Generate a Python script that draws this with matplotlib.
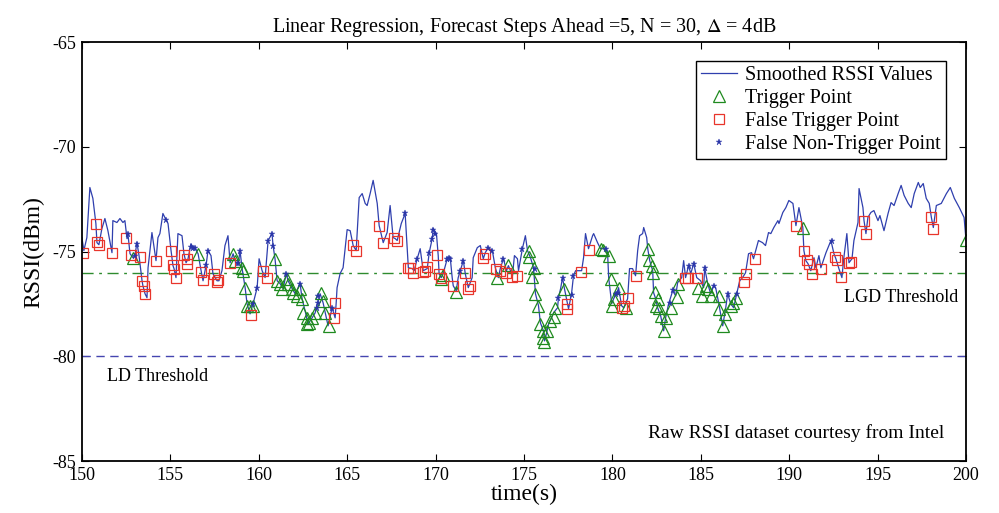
import matplotlib
matplotlib.use("Agg")
import matplotlib.pyplot as plt
import numpy as np

plt.rcParams["font.family"] = ["Liberation Serif", "DejaVu Serif"]
plt.rcParams["mathtext.fontset"] = "stix"
plt.rcParams["axes.unicode_minus"] = False

# ── smoothed RSSI trace (time in s, RSSI in dBm) ─────────────────────────────
time_s = [
    150.00, 150.11, 150.28, 150.45, 150.62, 150.79, 150.85, 150.96, 151.13, 151.30,
    151.47, 151.70, 151.75, 151.98, 152.15, 152.32, 152.43, 152.55, 152.60, 152.72,
    152.89, 153.00, 153.11, 153.23, 153.40, 153.45, 153.57, 153.68, 153.74, 153.96,
    154.19, 154.30, 154.41, 154.58, 154.75, 154.87, 155.04, 155.15, 155.21, 155.32,
    155.43, 155.66, 155.77, 155.89, 156.00, 156.17, 156.28, 156.40, 156.57, 156.74,
    156.85, 157.02, 157.13, 157.30, 157.41, 157.64, 157.75, 157.92, 158.09, 158.26,
    158.38, 158.55, 158.66, 158.83, 158.94, 159.06, 159.23, 159.34, 159.51, 159.68,
    159.91, 160.02, 160.19, 160.36, 160.53, 160.75, 160.81, 160.92, 161.04, 161.21,
    161.38, 161.55, 161.66, 161.89, 162.06, 162.34, 162.45, 162.62, 162.79, 163.02,
    163.19, 163.36, 163.47, 163.64, 163.92, 164.15, 164.32, 164.38, 164.43, 164.60,
    164.77, 165.00, 165.17, 165.34, 165.51, 165.68, 165.85, 166.02, 166.13, 166.30,
    166.47, 166.70, 166.81, 167.04, 167.26, 167.43, 167.60, 167.72, 167.83, 168.06,
    168.17, 168.28, 168.46, 168.68, 168.79, 168.96, 169.13, 169.30, 169.53, 169.64,
    169.81, 169.87, 170.05, 170.15, 170.20, 170.32, 170.43, 170.66, 170.83, 170.94,
    171.00, 171.17, 171.28, 171.40, 171.57, 171.68, 171.85, 172.07, 172.13, 172.36,
    172.53, 172.70, 172.81, 172.98, 173.21, 173.38, 173.55, 173.67, 173.84, 174.01,
    174.12, 174.35, 174.46, 174.63, 174.69, 174.91, 175.08, 175.20, 175.37, 175.54,
    175.65, 175.82, 175.93, 176.10, 176.16, 176.27, 176.39, 176.56, 176.67, 176.90,
    176.95, 177.07, 177.18, 177.29, 177.46, 177.52, 177.69, 177.80, 177.92, 178.09,
    178.26, 178.37, 178.48, 178.65, 178.88, 178.94, 179.16, 179.33, 179.50, 179.73,
    179.79, 179.96, 180.07, 180.30, 180.35, 180.52, 180.64, 180.86, 180.97, 181.14,
    181.31, 181.43, 181.54, 181.71, 181.77, 181.94, 182.00, 182.11, 182.28, 182.33,
    182.45, 182.56, 182.73, 182.90, 183.01, 183.18, 183.41, 183.58, 183.69, 183.92,
    184.03, 184.14, 184.31, 184.43, 184.60, 184.77, 184.99, 185.16, 185.22, 185.39,
    185.56, 185.73, 185.84, 186.01, 186.24, 186.41, 186.52, 186.69, 186.86, 187.03,
    187.20, 187.36, 187.53, 187.70, 187.87, 187.98, 188.21, 188.26, 188.49, 188.66,
    188.83, 188.96, 189.13, 189.36, 189.42, 189.64, 189.81, 189.98, 190.21, 190.38,
    190.55, 190.77, 190.83, 190.94, 191.06, 191.22, 191.40, 191.51, 191.68, 191.79,
    192.08, 192.36, 192.53, 192.64, 192.81, 192.98, 193.09, 193.26, 193.38, 193.55,
    193.66, 193.89, 193.95, 194.17, 194.23, 194.34, 194.45, 194.62, 194.79, 195.02,
    195.13, 195.36, 195.59, 195.76, 195.93, 196.16, 196.33, 196.50, 196.73, 196.90,
    197.07, 197.30, 197.41, 197.58, 197.75, 197.92, 198.04, 198.15, 198.32, 198.60,
    198.89, 199.11, 199.34, 199.62, 199.89, 200.00,
]
rssi_dbm = [
    -74.33, -74.95, -74.33, -71.94, -72.46, -73.66, -74.57, -74.67, -73.90, -73.42,
    -74.00, -75.05, -73.52, -73.61, -73.42, -73.61, -73.52, -74.38, -74.14, -75.10,
    -75.29, -75.19, -74.57, -75.19, -76.39, -76.63, -77.01, -77.20, -75.77, -74.09,
    -75.43, -74.33, -74.14, -73.18, -73.47, -73.66, -74.95, -75.67, -75.81, -76.24,
    -74.14, -74.24, -75.10, -75.53, -75.34, -74.62, -74.81, -74.86, -75.10, -75.91,
    -76.39, -75.67, -74.95, -75.19, -76.05, -76.39, -76.39, -75.91, -74.71, -74.24,
    -75.53, -75.10, -75.43, -75.67, -74.95, -75.81, -76.72, -77.49, -77.97, -77.49,
    -76.72, -75.34, -75.91, -76.24, -74.47, -74.14, -74.71, -75.34, -76.39, -76.53,
    -76.77, -76.05, -76.39, -76.77, -77.01, -76.53, -77.25, -77.82, -78.45, -78.16,
    -77.92, -77.35, -77.01, -77.44, -78.54, -77.68, -78.16, -77.44, -76.72, -76.05,
    -75.77, -73.95, -74.00, -74.71, -74.95, -72.42, -72.23, -72.70, -72.80, -72.23,
    -71.60, -72.70, -73.76, -74.57, -74.09, -72.80, -74.33, -74.38, -74.47, -73.66,
    -73.42, -73.18, -75.77, -75.81, -75.91, -75.34, -74.86, -75.91, -75.81, -75.05,
    -74.38, -73.90, -74.14, -75.19, -76.05, -76.24, -76.05, -75.34, -75.29, -76.24,
    -76.63, -76.87, -76.24, -75.91, -75.43, -76.05, -76.72, -76.24, -75.29, -74.81,
    -74.71, -75.34, -75.05, -74.81, -74.95, -75.77, -76.24, -75.77, -75.34, -75.91,
    -75.67, -76.15, -75.19, -75.34, -75.91, -74.86, -74.24, -74.95, -75.29, -75.77,
    -77.01, -77.58, -78.40, -78.78, -79.26, -78.92, -78.45, -78.16, -77.92, -77.68,
    -77.20, -76.77, -76.24, -76.77, -77.49, -77.73, -77.01, -76.15, -75.91, -75.91,
    -75.91, -75.29, -74.14, -74.86, -74.24, -74.14, -74.57, -74.86, -74.86, -75.10,
    -76.24, -77.49, -77.25, -76.87, -76.72, -77.58, -77.68, -77.25, -75.81, -75.81,
    -76.15, -74.95, -74.24, -74.14, -73.85, -74.33, -74.86, -75.43, -75.91, -76.96,
    -77.25, -77.68, -78.06, -78.78, -78.16, -77.49, -76.87, -77.11, -76.48, -76.24,
    -75.43, -76.24, -75.67, -76.05, -75.57, -76.24, -76.39, -76.72, -75.77, -76.53,
    -77.01, -76.63, -76.72, -77.44, -78.54, -77.68, -77.01, -77.49, -77.68, -77.01,
    -76.39, -76.24, -76.01, -75.10, -75.05, -75.34, -74.62, -74.47, -74.57, -74.71,
    -74.09, -74.14, -73.85, -73.52, -73.66, -73.13, -72.90, -72.56, -72.70, -73.76,
    -72.90, -73.85, -74.95, -75.43, -75.57, -75.91, -75.29, -75.77, -75.19, -75.77,
    -75.05, -74.47, -75.10, -75.34, -75.81, -76.24, -75.29, -74.14, -75.53, -75.34,
    -74.47, -73.61, -71.99, -72.90, -73.52, -74.14, -73.37, -73.13, -73.04, -73.52,
    -73.28, -74.00, -73.18, -72.66, -72.80, -72.23, -71.84, -72.32, -72.70, -72.90,
    -72.23, -71.70, -71.94, -71.75, -72.46, -72.70, -73.37, -73.85, -72.80, -72.70,
    -72.23, -71.94, -72.46, -72.90, -73.37, -74.47,
]

# ── trigger points (green triangles) ─────────────────────────────────────────
trig_t = [152.89, 156.57, 158.55, 158.66, 159.06, 159.11, 159.23, 159.34, 159.51, 159.68,
          160.92, 161.04, 161.21, 161.32, 161.61, 161.66, 161.89, 161.95, 162.17, 162.34,
          162.45, 162.51, 162.73, 162.73, 162.85, 163.02, 163.19, 163.53, 163.64, 163.75,
          163.98, 170.32, 170.43, 171.17, 173.50, 174.12, 175.26, 175.31, 175.48, 175.54,
          175.65, 175.82, 175.88, 176.05, 176.10, 176.16, 176.33, 176.50, 176.67, 176.78,
          177.24, 179.33, 179.45, 179.79, 179.90, 179.96, 180.07, 180.35, 180.75, 182.00,
          182.05, 182.22, 182.28, 182.39, 182.45, 182.56, 182.62, 182.73, 182.90, 183.01,
          183.30, 183.63, 183.69, 184.83, 185.05, 185.28, 185.39, 185.56, 186.01, 186.01,
          186.24, 186.35, 186.69, 186.80, 186.97, 190.77, 200.00]
trig_r = [-75.29, -75.10, -75.10, -75.43, -75.77, -75.91, -76.72, -77.58, -77.58, -77.58,
          -75.34, -76.39, -76.53, -76.77, -76.29, -76.53, -76.77, -76.96, -77.11, -76.77,
          -77.25, -77.92, -78.16, -78.45, -78.40, -78.16, -77.92, -76.96, -77.35, -77.92,
          -78.54, -76.29, -76.10, -76.91, -76.24, -75.62, -74.95, -75.24, -76.20, -75.77,
          -77.01, -77.58, -78.45, -79.11, -78.78, -79.31, -78.78, -78.30, -78.11, -77.68,
          -76.77, -74.86, -74.90, -75.19, -76.29, -77.58, -77.25, -76.72, -77.68, -74.86,
          -75.38, -75.67, -76.01, -76.91, -77.58, -77.25, -77.68, -78.06, -78.78, -78.16,
          -77.68, -77.15, -76.53, -76.72, -77.11, -76.63, -76.77, -77.11, -77.11, -77.73,
          -78.54, -77.97, -77.58, -77.44, -77.20, -73.85, -74.43]

# ── false trigger points (red squares) ───────────────────────────────────────
false_t = [150.06, 150.79, 150.85, 150.96, 151.70, 152.49, 152.77, 153.28, 153.40, 153.51,
           153.57, 154.19, 155.04, 155.15, 155.21, 155.32, 155.77, 155.94, 155.94, 156.74,
           156.85, 157.47, 157.64, 157.70, 158.38, 159.57, 160.25, 160.47, 164.27, 164.32,
           165.34, 165.51, 166.81, 167.04, 167.66, 167.83, 168.46, 168.57, 168.74, 169.30,
           169.41, 169.53, 170.10, 170.21, 170.32, 171.00, 171.68, 171.85, 171.97, 172.70,
           172.81, 173.44, 173.67, 174.01, 174.35, 174.63, 177.46, 177.46, 178.20, 178.65,
           180.52, 180.64, 180.86, 181.31, 184.09, 184.26, 184.77, 187.42, 187.53, 188.04,
           190.38, 190.83, 191.00, 191.12, 191.28, 191.79, 192.58, 192.70, 192.92, 193.38,
           193.49, 194.23, 194.34, 198.04, 198.15]
false_r = [-75.05, -73.66, -74.52, -74.67, -75.05, -74.33, -75.14, -75.24, -76.39, -76.63,
           -77.01, -75.43, -74.95, -75.62, -75.81, -76.24, -75.14, -75.34, -75.57, -75.96,
           -76.34, -76.05, -76.44, -76.34, -75.53, -78.02, -75.91, -76.24, -78.16, -77.44,
           -74.67, -74.95, -73.76, -74.57, -74.33, -74.47, -75.77, -75.77, -76.01, -75.96,
           -75.91, -75.72, -75.14, -76.05, -76.24, -76.63, -76.01, -76.77, -76.63, -75.29,
           -75.10, -75.81, -75.91, -76.01, -76.20, -76.15, -77.49, -77.73, -75.96, -74.90,
           -77.68, -77.58, -77.20, -76.15, -76.24, -76.24, -76.24, -76.44, -76.05, -75.34,
           -73.76, -74.95, -75.38, -75.57, -76.05, -75.81, -75.24, -75.38, -76.20, -75.53,
           -75.48, -73.52, -74.14, -73.33, -73.90]

# ── false non-trigger points (blue stars) ────────────────────────────────────
fnt_t = [152.60, 153.00, 153.11, 154.75, 156.17, 156.28, 156.40, 157.02, 157.13, 158.83,
         158.94, 159.68, 159.91, 160.53, 160.75, 160.81, 161.55, 162.34, 163.36, 163.36,
         163.30, 164.15, 168.28, 168.96, 169.64, 169.81, 169.87, 169.98, 170.66, 170.75,
         170.83, 171.40, 171.57, 172.98, 173.21, 173.84, 174.91, 175.60, 176.95, 177.18,
         177.69, 177.80, 179.62, 180.30, 180.19, 183.24, 183.41, 184.31, 184.60, 185.22,
         185.73, 186.52, 187.03, 192.41]
fnt_r = [-74.14, -75.19, -74.62, -73.47, -74.76, -74.81, -74.81, -75.62, -74.95, -75.53,
         -74.95, -77.49, -76.72, -74.47, -74.14, -74.71, -76.05, -76.53, -77.11, -77.44,
         -77.68, -77.68, -73.18, -75.34, -75.05, -74.38, -73.95, -74.14, -75.34, -75.29,
         -75.34, -75.91, -75.43, -74.81, -74.95, -75.34, -74.86, -75.81, -77.20, -76.24,
         -77.06, -76.15, -74.86, -76.96, -77.01, -77.44, -76.82, -75.67, -75.57, -75.77,
         -76.63, -77.01, -77.01, -74.47]

LGD_THRESHOLD = -76
LD_THRESHOLD = -80

LINE_BLUE = "#2f3fae"
GREEN = "#1f8a1f"
RED = "#e8352b"
STAR_BLUE = "#2a35a8"

fig = plt.figure(figsize=(9.99, 5.13), dpi=100)
ax = fig.add_axes([0.082, 0.101, 0.885, 0.817])

ax.axhline(LGD_THRESHOLD, color="#2e8b2e", lw=1.0, ls="-.", dashes=(8, 4, 2, 4))
ax.axhline(LD_THRESHOLD, color="#4545b0", lw=1.0, ls="--", dashes=(6, 4))

ax.plot(time_s, rssi_dbm, color=LINE_BLUE, lw=0.9, label="Smoothed RSSI Values")
ax.plot(trig_t, trig_r, ls="none", marker="^", ms=8.5, mfc="none",
        mec=GREEN, mew=0.9, label="Trigger Point")
ax.plot(false_t, false_r, ls="none", marker="s", ms=7.5, mfc="none",
        mec=RED, mew=0.9, label="False Trigger Point")
ax.plot(fnt_t, fnt_r, ls="none", marker="*", ms=5, color=STAR_BLUE,
        mew=0.3, label="False Non-Trigger Point")

ax.set_xlim(150, 200)
ax.set_ylim(-85, -65)
ax.set_xticks(np.arange(150, 201, 5))
ax.set_yticks(np.arange(-85, -64, 5))
ax.tick_params(direction="in", top=True, right=True, length=5, width=0.8,
               labelsize=13, pad=4)
for spine in ax.spines.values():
    spine.set_linewidth(1.3)

ax.set_xlabel("time(s)", fontsize=17, labelpad=0)
ax.set_ylabel("RSSI(dBm)", fontsize=17, labelpad=6)
ax.set_title("Linear Regression, Forecast Steps Ahead =5, N = 30, $\\Delta$ = 4dB",
             fontsize=14.5, pad=7)

ax.text(199.55, -77.2, "LGD Threshold", fontsize=13, ha="right", va="center")
ax.text(151.4, -80.95, "LD Threshold", fontsize=13, ha="left", va="center")
ax.text(198.75, -83.65, "Raw RSSI dataset courtesy from Intel", fontsize=14,
        ha="right", va="center")

leg = ax.legend(loc="upper right", bbox_to_anchor=(0.977, 0.956), fontsize=14.5,
                frameon=True, fancybox=False, framealpha=1, edgecolor="black",
                handlelength=1.8, handletextpad=0.4, borderpad=0.25,
                labelspacing=0.2, borderaxespad=0)
leg.get_frame().set_linewidth(1.0)

fig.savefig("out.png", dpi=100)
